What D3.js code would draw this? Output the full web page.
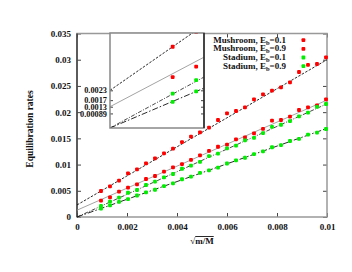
<!DOCTYPE html>
<html>
<head>
<meta charset="utf-8">
<title>Equilibration rates</title>
<script src="https://cdn.jsdelivr.net/npm/d3@7"></script>
<style>
  body { margin: 0; background: #fff; }
  text { font-family: "Liberation Serif", "DejaVu Serif", serif; font-weight: bold; fill: #111; }
  .tick text { font-size: 9px; }
  .inset .tick text { font-size: 8.3px; }
  .tick line { stroke: #444; }
</style>
</head>
<body>
<div id="chart"></div>
<script>
// sqrt(m/M) sample points, shared by all four runs
var xs = [0.00096, 0.00132, 0.00168, 0.00204, 0.00240, 0.00276, 0.00312, 0.00348,
          0.00384, 0.00420, 0.00456, 0.00492, 0.00528, 0.00564, 0.00600, 0.00636,
          0.00672, 0.00708, 0.00744, 0.00780, 0.00816, 0.00852, 0.00888, 0.00924,
          0.00960, 0.00996];

var mush01 = [0.00496, 0.00585, 0.00693, 0.00833, 0.0091, 0.01024, 0.0112, 0.01215,
              0.01303, 0.0143, 0.01532, 0.01615, 0.01703, 0.0185, 0.01978, 0.02022,
              0.02092, 0.02245, 0.0234, 0.02409, 0.02474, 0.02569, 0.02766, 0.029,
              0.02918, 0.03046];
var mush09 = [0.00311, 0.00375, 0.00483, 0.00559, 0.00624, 0.00725, 0.00782, 0.00864,
              0.00948, 0.0101, 0.0109, 0.01175, 0.0126, 0.0134, 0.0138, 0.0148,
              0.0152, 0.01596, 0.0168, 0.01837, 0.0185, 0.01913, 0.02041, 0.02092,
              0.0213, 0.02245];
var stad01 = [0.0021, 0.00292, 0.00368, 0.00463, 0.00515, 0.0061, 0.00673, 0.00757,
              0.0082, 0.0092, 0.0098, 0.0105, 0.0116, 0.0121, 0.0131, 0.0136,
              0.0146, 0.0151, 0.0160, 0.0172, 0.0176, 0.0183, 0.0192, 0.0199,
              0.0210, 0.02155];
var stad09 = [0.0016, 0.00223, 0.0029, 0.0034, 0.0041, 0.0047, 0.0052, 0.0059,
              0.0064, 0.0072, 0.0077, 0.0084, 0.0089, 0.0094, 0.0102, 0.0108,
              0.0113, 0.0120, 0.0125, 0.0133, 0.0137, 0.0145, 0.0149, 0.0157,
              0.0161, 0.01678];

var seriesNames = ['Mushroom', 'Mushroom', 'Stadium', 'Stadium'];
var seriesEb = ['0.1', '0.9', '0.1', '0.9'];
var seriesColor = ['#ff0000', '#ff0000', '#00ee00', '#00ee00'];
// linear fits: rate = intercept + slope * sqrt(m/M)
var fitIntercept = [0.0023, 0.0013, 0, 0];
var fitSlope = [2.77, 2.1, 2.16, 1.69];
var fitStroke = ['#111', '#999', '#333', '#111'];
var fitDash = ['2.5,1.5', null, '4,1.5,1,1.5', '6,2,1.5,2'];

var yTicks = [0, 0.005, 0.01, 0.015, 0.02, 0.025, 0.03, 0.035];
var xTicks = [0, 0.002, 0.004, 0.006, 0.008, 0.01];
var insetTicks = [0.00089, 0.0013, 0.0017, 0.0023];

var allY = [mush01, mush09, stad01, stad09];

var width = 352, height = 272;
var svg = d3.select('#chart').append('svg')
  .attr('width', width).attr('height', height);

var x = d3.scaleLinear().domain([0, 0.01]).range([77, 327]);
var y = d3.scaleLinear().domain([0, 0.035]).range([217, 33.5]);

function fmt(d) { return d === 0 ? '0' : String(+d.toFixed(5)); }

// main axes
svg.append('g').attr('transform', 'translate(0,217)')
  .call(d3.axisBottom(x).tickValues(xTicks).tickFormat(fmt).tickSize(-4).tickPadding(7))
  .call(function(g) { g.select('.domain').remove(); });
svg.append('g').attr('transform', 'translate(0,33.5)')
  .call(d3.axisTop(x).tickValues(xTicks).tickFormat('').tickSize(-4))
  .call(function(g) { g.select('.domain').remove(); });
svg.append('g').attr('transform', 'translate(77,0)')
  .call(d3.axisLeft(y).tickValues(yTicks).tickFormat(fmt).tickSize(-4).tickPadding(6))
  .call(function(g) { g.select('.domain').remove(); });
svg.append('g').attr('transform', 'translate(327,0)')
  .call(d3.axisRight(y).tickValues(yTicks).tickFormat('').tickSize(-4))
  .call(function(g) { g.select('.domain').remove(); });

svg.append('rect')
  .attr('x', 77).attr('y', 33.5).attr('width', 250).attr('height', 183.5)
  .attr('fill', 'none').attr('stroke', '#999').attr('stroke-width', 1.5);
svg.append('line').attr('x1', 77).attr('x2', 77).attr('y1', 33.5).attr('y2', 217)
  .attr('stroke', '#222').attr('stroke-width', 1.2);

function drawPanel(g, xs_, ys_, clipId) {
  var xd = xs_.domain(), line = d3.line()
    .x(function(d) { return xs_(d[0]); })
    .y(function(d) { return ys_(d[1]); });
  var body = g.append('g').attr('clip-path', 'url(#' + clipId + ')');
  fitSlope.forEach(function(s, i) {
    var pts = [[xd[0], fitIntercept[i] + s * xd[0]], [xd[1], fitIntercept[i] + s * xd[1]]];
    body.append('path').attr('d', line(pts))
      .attr('fill', 'none').attr('stroke', fitStroke[i]).attr('stroke-width', 0.9)
      .attr('stroke-dasharray', fitDash[i]);
  });
  allY.forEach(function(vals, i) {
    body.selectAll('.p' + i).data(vals).enter().append('rect')
      .attr('x', function(d, k) { return xs_(xs[k]) - 1.9; })
      .attr('y', function(d) { return ys_(d) - 1.9; })
      .attr('width', 3.8).attr('height', 3.8).attr('rx', 1)
      .attr('fill', seriesColor[i]);
  });
}

var defs = svg.append('defs');
defs.append('clipPath').attr('id', 'clipMain').append('rect')
  .attr('x', 75).attr('y', 31.5).attr('width', 254).attr('height', 187.5);
drawPanel(svg.append('g'), x, y, 'clipMain');

// inset
var ix = d3.scaleLinear().domain([0, 0.00144]).range([110, 204]);
var iy = d3.scaleLinear().domain([0, 0.0058]).range([128, 33]);
defs.append('clipPath').attr('id', 'clipInset').append('rect')
  .attr('x', 110).attr('y', 33).attr('width', 94).attr('height', 95);

var inset = svg.append('g').attr('class', 'inset');
inset.append('rect').attr('x', 110).attr('y', 33).attr('width', 94).attr('height', 95)
  .attr('fill', '#fff');
drawPanel(inset, ix, iy, 'clipInset');
inset.append('g').attr('transform', 'translate(110,0)')
  .call(d3.axisLeft(iy).tickValues(insetTicks).tickFormat(fmt).tickSize(-3).tickPadding(3))
  .call(function(g) { g.select('.domain').remove(); });
inset.append('g').attr('transform', 'translate(204,0)')
  .call(d3.axisRight(iy).tickValues(insetTicks).tickFormat('').tickSize(-3))
  .call(function(g) { g.select('.domain').remove(); });
inset.append('rect').attr('x', 110).attr('y', 33).attr('width', 94).attr('height', 95)
  .attr('fill', 'none').attr('stroke', '#888').attr('stroke-width', 1.5);
inset.append('line').attr('x1', 204).attr('x2', 204).attr('y1', 33).attr('y2', 128)
  .attr('stroke', '#111').attr('stroke-width', 1.3);

// legend
var legend = svg.append('g');
seriesNames.forEach(function(n, i) {
  var ly = 42.5 + i * 8.7;
  var t = legend.append('text').attr('x', 286).attr('y', ly)
    .attr('text-anchor', 'end').style('font-size', '9px');
  t.append('tspan').text(n + ', E');
  t.append('tspan').attr('dy', 2).style('font-size', '6.5px').text('b');
  t.append('tspan').attr('dy', -2).text('=' + seriesEb[i]);
  legend.append('rect').attr('x', 301.5).attr('y', ly - 4.3)
    .attr('width', 3.8).attr('height', 3.8).attr('rx', 1)
    .attr('fill', seriesColor[i]);
});

// axis titles
svg.append('text')
  .attr('transform', 'translate(33,129) rotate(-90)')
  .attr('text-anchor', 'middle').style('font-size', '9.5px')
  .text('Equilibration rates');
var xt = svg.append('text').attr('x', 202).attr('y', 244)
  .attr('text-anchor', 'middle').style('font-size', '9px');
xt.append('tspan').text('\u221A');
xt.append('tspan').style('text-decoration', 'overline').text('m/M');
</script>
</body>
</html>
